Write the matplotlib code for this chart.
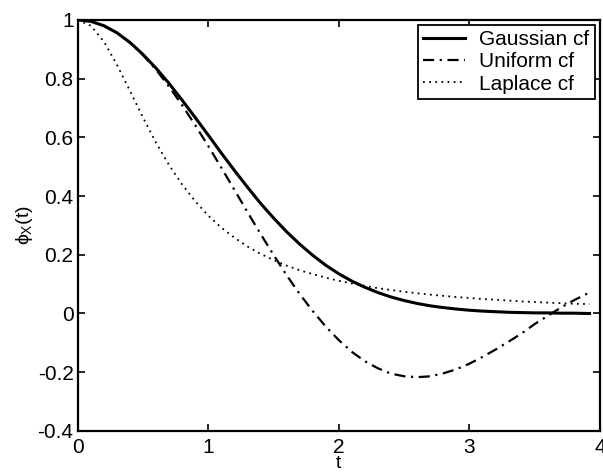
import matplotlib
matplotlib.use('Agg')
import matplotlib.pyplot as plt

# characteristic functions
t = [0.0, 0.1, 0.2, 0.3, 0.4, 0.5, 0.6, 0.7, 0.8, 0.9,
     1.0, 1.1, 1.2, 1.3, 1.4, 1.5, 1.6, 1.7, 1.8, 1.9,
     2.0, 2.1, 2.2, 2.3, 2.4, 2.5, 2.6, 2.7, 2.8, 2.9,
     3.0, 3.1, 3.2, 3.3, 3.4, 3.5, 3.6, 3.7, 3.8, 3.9, 3.92]

gaussian = [1.000, 0.995, 0.980, 0.956, 0.923, 0.882, 0.835, 0.783, 0.726, 0.667,
            0.607, 0.546, 0.487, 0.430, 0.375, 0.325, 0.278, 0.236, 0.198, 0.164,
            0.135, 0.110, 0.089, 0.071, 0.056, 0.044, 0.034, 0.026, 0.020, 0.015,
            0.011, 0.008, 0.006, 0.004, 0.003, 0.002, 0.002, 0.001, 0.001, 0.000, 0.000]

uniform = [1.000, 0.995, 0.980, 0.956, 0.922, 0.880, 0.830, 0.772, 0.709, 0.641,
           0.570, 0.496, 0.421, 0.345, 0.271, 0.199, 0.130, 0.066, 0.008, -0.045,
           -0.091, -0.131, -0.163, -0.187, -0.205, -0.214, -0.217, -0.214, -0.204, -0.190,
           -0.171, -0.148, -0.123, -0.096, -0.068, -0.036, -0.008, 0.020, 0.045, 0.067, 0.071]

laplace = [1.000, 0.980, 0.926, 0.847, 0.758, 0.667, 0.581, 0.505, 0.439, 0.382,
           0.333, 0.292, 0.258, 0.228, 0.203, 0.182, 0.163, 0.147, 0.134, 0.122,
           0.111, 0.102, 0.094, 0.086, 0.080, 0.074, 0.069, 0.064, 0.060, 0.056,
           0.053, 0.049, 0.047, 0.044, 0.041, 0.039, 0.037, 0.035, 0.033, 0.032, 0.032]

xticks = [0, 1, 2, 3, 4]
yticks = [-0.4, -0.2, 0, 0.2, 0.4, 0.6, 0.8, 1]
ytick_labels = ['-0.4', '-0.2', '0', '0.2', '0.4', '0.6', '0.8', '1']

plt.rcParams['font.family'] = ['Liberation Sans', 'DejaVu Sans']
plt.rcParams['mathtext.fontset'] = 'custom'
plt.rcParams['mathtext.rm'] = 'Liberation Sans'
plt.rcParams['mathtext.it'] = 'Liberation Sans'

fig = plt.figure(figsize=(6.03, 4.73), dpi=100)
ax = fig.add_axes([0.129, 0.089, 0.866, 0.869])

ax.plot(t, gaussian, color='black', linewidth=2.2, label='Gaussian cf')
ax.plot(t, uniform, color='black', linewidth=1.6, linestyle=(0, (5, 2.5, 1, 2.5)), label='Uniform cf')
ax.plot(t, laplace, color='black', linewidth=1.3, linestyle=(0, (1, 2.4)), label='Laplace cf')

ax.set_xlim(0, 4)
ax.set_ylim(-0.4, 1)
ax.set_xticks(xticks)
ax.set_xticklabels([str(v) for v in xticks])
ax.set_yticks(yticks)
ax.set_yticklabels(ytick_labels)
ax.tick_params(direction='in', length=5, width=1.2, top=True, right=True,
               labelsize=15, colors='black')
ax.tick_params(axis='x', pad=5)
ax.tick_params(axis='y', pad=3)
for sp in ax.spines.values():
    sp.set_linewidth(1.6)
    sp.set_color('black')

ax.set_xlabel('t', fontsize=14, labelpad=-1)
ax.set_ylabel(r'$\phi_{\mathrm{X}}\mathrm{(t)}$', fontsize=14, labelpad=2)

leg = ax.legend(loc='upper right', fontsize=15, frameon=True, fancybox=False,
                edgecolor='black', framealpha=1, borderaxespad=0.25,
                handlelength=2.0, handletextpad=0.7, labelspacing=0.15,
                borderpad=0.25)
leg.get_frame().set_linewidth(1.3)

plt.savefig('out.png', dpi=100)
plt.close()
